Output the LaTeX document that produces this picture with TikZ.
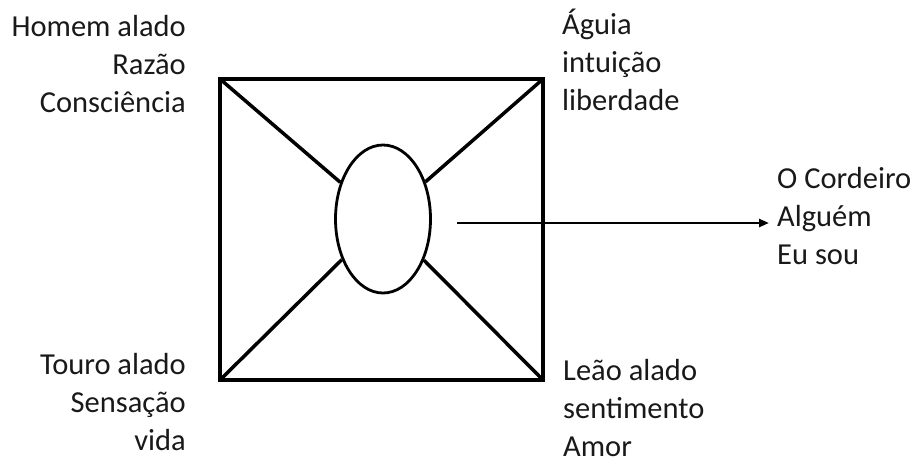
\documentclass[tikz,border=0pt]{standalone}
\usepackage{fontspec}
\setmainfont{Carlito}
\usetikzlibrary{arrows.meta,shapes.geometric}
\begin{document}
\begin{tikzpicture}[x=1pt,y=-1pt,
  lbl/.style={font=\fontsize{30.5}{38}\selectfont, inner sep=0pt, text=black!90},
  lblr/.style={lbl, align=right, anchor=base east},
  lbll/.style={lbl, align=left, anchor=base west},
  frame/.style={line width=4pt, line join=miter},
  diag/.style={line width=3.5pt},
  core/.style={ellipse, draw, line width=2.8pt, inner sep=0pt, minimum width=95pt, minimum height=148pt},
  arr/.style={line width=2.8pt, -{Triangle[length=10pt,width=8pt]}}]
\useasboundingbox (0,0) rectangle (917,459);
\coordinate (tl) at (220,79);
\coordinate (tr) at (543,79);
\coordinate (bl) at (220,380);
\coordinate (br) at (543,380);
\node[core] (c) at (383,219) {};
\draw[frame] (tl) rectangle (br);
\draw[diag] (tl) -- (c);
\draw[diag] (tr) -- (c);
\draw[diag] (bl) -- (c);
\draw[diag] (br) -- (c);
\node[lblr] (hom) at (186,112) {Homem alado\\Razão\\Consciência};
\node[lbll] (agu) at (562,110) {Águia\\intuição\\liberdade};
\node[lblr] (tou) at (186,450) {Touro alado\\Sensação\\vida};
\node[lbll] (leo) at (563,456) {Leão alado\\sentimento\\Amor};
\node[lbll] (cord) at (777,264) {O Cordeiro\\Alguém\\Eu sou};
\coordinate (as) at (457,223);
\draw[arr, shorten >=8pt] (as) -- (as -| cord.west);
\end{tikzpicture}
\end{document}
